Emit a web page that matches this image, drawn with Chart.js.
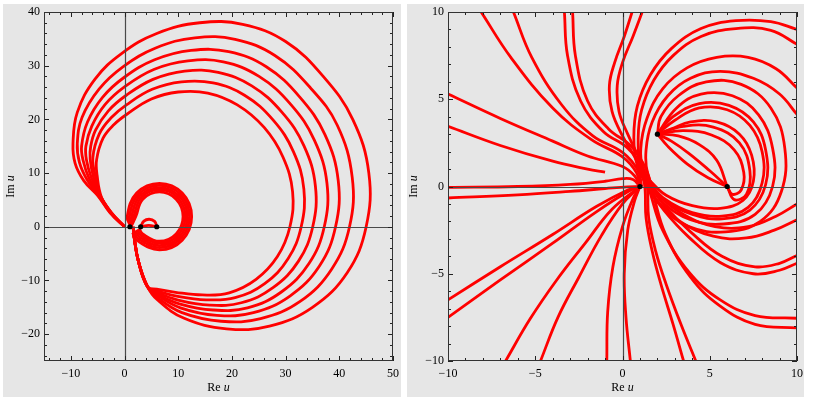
<!DOCTYPE html>
<html>
<head>
<meta charset="utf-8">
<script src="https://cdn.jsdelivr.net/npm/chart.js@4.4.1/dist/chart.umd.min.js"></script>
<style>
    html, body { margin: 0; padding: 0; background: #fff; }
    body { width: 818px; height: 400px; position: relative; overflow: hidden; }
    .panel { position: absolute; background: #e6e6e6; }
    .box { position: absolute; top: 0; height: 400px; }
</style>
</head>
<body>
<div class="panel" style="left:3px; top:4px; width:398px; height:393px;"></div>
<div class="panel" style="left:407px; top:4px; width:397px; height:393px;"></div>
<div class="box" style="left:0; width:405px;"><canvas id="leftChart"></canvas></div>
<div class="box" style="left:405px; width:413px;"><canvas id="rightChart"></canvas></div>

<script>
// ---- tick labels ----
const leftXTicks = [-10, 0, 10, 20, 30, 40, 50];
const leftYTicks = [-20, -10, 0, 10, 20, 30, 40];
const rightTicks = [-10, -5, 0, 5, 10];

// ---- left panel: fixed points ----
const leftDots = [[1, 0], [3, 0], [6, 0]];

// ---- left panel: big spirals, inner to outer ----
const spiral1 = [[0,0],[-2.4,2.4],[-4.3,5.5],[-5.1,9.5],[-5.2,12.5],[-4,16.5],[-2,19],[0.5,21],[5,23.8],[10,25.1],[15.5,24.9],[21,22.7],[26,18.5],[29.5,13],[31.3,6.5],[30.8,0],[28.5,-5.5],[24.5,-9.8],[19.5,-12.3],[14.5,-12.7],[9.5,-12.2],[6,-11.6],[4.3,-11.2],[2.6,-6.5],[1.8,-2],[1.6,0]];
const spiral2 = [[0,0],[-2.4,2.6],[-4.6,6],[-5.4,9.3],[-5.9,12.9],[-4.7,17.3],[-2.5,20.3],[0.35,22.7],[5.15,25.6],[10.6,27],[16.5,26.8],[22.35,24.5],[27.65,19.9],[31.45,14],[33.4,7],[32.9,0],[30.45,-5.95],[26.1,-10.6],[20.6,-13.2],[15.2,-13.6],[9.7,-12.9],[6,-11.9],[4.3,-11.2],[2.6,-6.5],[1.8,-2],[1.6,0]];
const spiral3 = [[0,0],[-2.45,2.6],[-4.7,6],[-5.8,9.3],[-6.4,12.6],[-6.3,15],[-5.4,18],[-3.05,21.55],[0.2,24.4],[5.3,27.45],[11.2,29],[17.45,28.75],[23.7,26.25],[29.3,21.35],[33.4,15.1],[35.55,7.55],[35.05,0],[32.4,-6.4],[27.65,-11.35],[21.75,-14.15],[15.85,-14.6],[9.95,-13.65],[6,-12.2],[4.3,-11.2],[2.6,-6.5],[1.8,-2],[1.6,0]];
const spiral4 = [[0,0],[-2.5,2.6],[-4.75,6],[-6.2,9.2],[-7.1,12.5],[-7.2,15],[-6.1,18.75],[-3.6,22.8],[0.05,26.1],[5.45,29.3],[11.8,30.9],[18.4,30.7],[25.05,28],[30.95,22.8],[35.35,16.15],[37.7,8.1],[37.2,0],[34.35,-6.85],[29.2,-12.15],[22.9,-15.1],[16.5,-15.5],[10.2,-14.35],[6,-12.5],[4.3,-11.2],[2.6,-6.5],[1.8,-2],[1.6,0]];
const spiral5 = [[0,0],[-2.55,2.6],[-4.8,6],[-6.6,9],[-7.7,12.3],[-8,15],[-6.9,19.5],[-4.1,24.1],[-0.1,27.8],[5.6,31.1],[12.4,32.85],[19.4,32.6],[26.4,29.8],[32.6,24.2],[37.3,17.2],[39.8,8.6],[39.3,0],[36.3,-7.3],[30.8,-12.9],[24,-16],[17.2,-16.5],[10.4,-15.1],[6,-12.7],[4.3,-11.2],[2.6,-6.5],[1.8,-2],[1.6,0]];
const spiral6 = [[0,0],[-2.6,2.6],[-4.9,5.9],[-7,8.8],[-8.4,12],[-8.8,15.5],[-7.9,20.4],[-4.75,25.65],[-0.3,29.8],[5.8,33.3],[13.1,35.2],[20.6,34.9],[28,31.9],[34.6,25.9],[39.6,18.95],[42.4,9.25],[41.9,0],[38.6,-7.85],[32.7,-13.9],[25.35,-17.1],[18,-17.6],[10.7,-16],[6,-13.1],[4.3,-11.2],[2.6,-6.5],[1.8,-2],[1.6,0]];
const spiral7 = [[0,0],[-2.7,2.6],[-5,5.8],[-7.6,8.6],[-9.2,11.8],[-9.6,15.5],[-8.8,21.3],[-5.5,27.5],[-0.5,32.3],[6,36],[14,38],[22,37.7],[30,34.5],[37,28],[42.5,20],[45.5,10],[45,0],[41.5,-8.5],[35,-15],[27,-18.5],[19,-19],[11,-17],[6,-13.5],[4.3,-11.2],[2.6,-6.5],[1.8,-2],[1.6,0]];

// ---- left panel: small ring around (6.5, 2) and inner loop ----
const ring1 = [[1.2,0],[2.1,1.9],[3.39,5.14],[6.5,6.5],[9.61,5.14],[10.9,1.9],[9.61,-1.34],[6.5,-2.7],[3.39,-1.34],[2.69,-0.3]];
const ring2 = [[1.2,0],[1.7,1.9],[3.1,5.43],[6.5,6.9],[9.9,5.43],[11.3,1.9],[9.9,-1.63],[6.5,-3.1],[3.1,-1.63],[2.34,-0.5]];
const ring3 = [[1.2,0],[1.3,1.9],[2.82,5.72],[6.5,7.3],[10.18,5.72],[11.7,1.9],[10.18,-1.92],[6.5,-3.5],[2.82,-1.92],[2,-0.7]];
const ring4 = [[1.2,0],[0.9,1.9],[2.54,6],[6.5,7.7],[10.46,6],[12.1,1.9],[10.46,-2.2],[6.5,-3.9],[2.54,-2.2],[1.65,-0.9]];
const ring5 = [[1.2,0],[0.5,1.9],[2.26,6.3],[6.5,8.1],[10.74,6.3],[12.5,1.9],[10.74,-2.5],[6.5,-4.3],[2.26,-2.5],[1.5,-1.1]];
const loopTop = [[3,0],[3.6,1.05],[4.6,1.4],[5.6,1.0],[6,0.1]];
const loopLow = [[3,0],[4.5,0.25],[6,0]];

// ---- right panel: fixed points ----
const rightDots = [[1, 0], [2, 3], [6, 0]];

// ---- right panel: lines running into (1,0) from the left and below ----
const rA = [[-10,-0.05],[-6,0],[-3,0.12],[-1,0.3],[0,0.45],[0.6,0.4],[1,0]];
const rB = [[-10,-0.66],[-6,-0.48],[-3,-0.28],[-1,-0.12],[0.3,-0.02],[1,0]];
const rC1 = [[-10,-6.5],[-7,-4.6],[-4,-2.75],[-1.5,-1.15],[0.3,-0.2],[1,0]];
const rC2 = [[-10,-7.5],[-7,-5.35],[-4,-3.25],[-1.5,-1.45],[0.3,-0.3],[1,0]];
const rD1 = [[-6.7,-10],[-5.3,-7.6],[-3.8,-5.4],[-2.1,-3.2],[-0.6,-1.3],[1,0]];
const rD2 = [[-4.7,-10],[-3.7,-7.5],[-2.5,-5.2],[-1.2,-2.8],[0,-1],[1,0]];
const rE = [[-0.9,-10],[-0.85,-7.2],[-0.55,-4.6],[0,-2.3],[0.6,-0.7],[1,0]];
const rF = [[0.45,-10],[0.2,-7.5],[0.1,-5],[0.3,-2.5],[0.7,-0.8],[1,0]];

// ---- right panel: lines from the upper left through the neck ----
const rN1 = [[-10,5.3],[-7,3.9],[-4,2.6],[-2,1.75],[0,1.15],[0.7,0.6],[1,0]];
const rN2 = [[-10,3.45],[-7,2.35],[-4,1.45],[-2,1],[-1,0.82]];
const rN3 = [[-8.1,10],[-6.4,7.4],[-4,4.5],[-1.8,2.7],[0,1.7],[0.8,0.8],[1,0]];
const rN4 = [[-6.25,10],[-5.2,7.4],[-3.5,4.7],[-1.7,2.9],[0,1.95],[0.9,0.9],[1.1,0]];
const rN5a = [[-3.33,10],[-3.15,7.5],[-2.4,4.9],[-1.1,3.15],[0.3,2.2],[1.2,1],[1.6,-0.4],[2.3,-2.5],[3.8,-4.9],[5.6,-6.5],[7.6,-7.4],[10,-7.55]];
const rN5b = [[-2.86,10],[-2.7,7.5],[-2,4.9],[-0.8,3.3],[0.5,2.3],[1.35,1],[1.75,-0.4],[2.45,-2.7],[3.9,-5.2],[5.6,-6.85],[7.6,-7.9],[10,-8.1]];
const rN6a = [[0.55,10],[0.1,8.6],[-0.45,7.1],[-0.75,5.8],[-0.6,4.3],[0,2.9],[0.8,1.5],[1.25,0.2],[1.35,-1.8],[1.7,-3.7],[2.2,-5.6],[2.9,-7.9],[3.5,-10]];
const rN6b = [[1.13,10],[0.6,8.6],[0,7.1],[-0.3,5.8],[-0.2,4.3],[0.3,3],[1,1.5],[1.4,0.2],[1.5,-1.8],[1.9,-3.7],[2.5,-5.6],[3.35,-7.9],[4.2,-10]];

// ---- right panel: arcs entering at the right edge, over the top, out again below ----
const rArc1 = [[10,9],[8.5,9.45],[6.5,9.5],[4.5,9.05],[2.8,7.9],[1.6,6.4],[0.85,4.6],[0.65,2.8],[0.85,1.2],[1.5,-0.1],[2.4,-1.4],[3.8,-2.9],[5.6,-4.35],[7.5,-5],[9,-4.8],[10,-4.4]];
const rArc2 = [[10,8.15],[8.5,8.95],[6.5,9.05],[4.5,8.6],[2.9,7.5],[1.8,6.1],[1.1,4.4],[0.9,2.8],[1.05,1.2],[1.65,0],[2.5,-1.2],[3.9,-2.6],[5.7,-4],[7.6,-4.6],[9,-4.4],[10,-3.95]];
const rArc3 = [[10,5.65],[8.8,6.75],[7.2,7.4],[5.4,7.4],[3.7,6.8],[2.3,5.6],[1.4,3.9],[1.05,2.2],[1.2,0.7],[1.9,-0.7],[3.3,-2],[5.2,-2.85],[7.1,-2.95],[8.7,-2.5],[10,-1.9]];
const rArc4 = [[10,4.13],[9,5.3],[7.5,6.2],[5.6,6.6],[3.9,6.2],[2.6,5.2],[1.7,3.7],[1.35,2.1],[1.45,0.7],[2.1,-0.5],[3.5,-1.6],[5.3,-2.3],[7.2,-2.3],[8.8,-1.7],[10,-1]];

// ---- right panel: loops round (6,0) that end in (2,3) ----
const rL1 = [[1.5,0.4],[2.5,-0.5],[4,-1.1],[5.6,-1.25],[6.9,-0.8],[7.5,0.3],[7.4,1.8],[6.7,3],[5.4,3.7],[3.9,3.7],[2.8,3.3],[2,3]];
const rL2 = [[1.45,0.35],[2.4,-0.7],[4,-1.5],[5.7,-1.7],[7.2,-1.2],[8,0.2],[8,2],[7.3,3.5],[6,4.4],[4.4,4.5],[3,3.8],[2,3]];
const rL2b = [[1.45,0.3],[2.4,-0.8],[4,-1.6],[5.7,-1.85],[7.3,-1.35],[8.2,0.1],[8.2,2.1],[7.5,3.7],[6.1,4.65],[4.4,4.75],[2.9,4],[2,3]];
const rL3 = [[1.4,0.3],[2.3,-0.9],[3.9,-1.9],[5.8,-2.15],[7.6,-1.6],[8.6,0],[8.6,2.2],[7.8,4.1],[6.3,5.2],[4.5,5.3],[3.1,4.5],[2,3]];
const rL4 = [[1.35,0.25],[2.2,-1.1],[3.8,-2.3],[5.9,-2.6],[7.9,-2],[9.1,-0.3],[9.3,2.2],[8.5,4.5],[6.8,5.85],[4.8,6],[3.2,5.2],[2.2,4],[2,3]];

// ---- right panel: short curves between (6,0) and (2,3) ----
const rT1 = [[6,0],[5,0.9],[3.8,1.9],[2.8,2.6],[2,3]];
const rT2 = [[6,0],[5.4,1.5],[4.4,2.4],[3.2,2.9],[2,3]];
const rT3 = [[6,0],[4.9,0.5],[3.7,1.3],[2.6,2.3],[2,3]];
const rT4 = [[6,0],[6.3,-0.45],[6.8,-0.2],[6.95,0.8],[6.4,2.1],[5.1,2.95],[3.5,3.2],[2,3]];
const rT5 = [[6,0],[6.4,-0.75],[7.1,-0.45],[7.3,0.9],[6.7,2.5],[5.2,3.4],[3.5,3.45],[2,3]];

const leftCurves = [spiral1, spiral2, spiral3, spiral4, spiral5, spiral6, spiral7,
    ring1, ring2, ring3, ring4, ring5, loopTop, loopLow];
const rightCurves = [rA, rB, rC1, rC2, rD1, rD2, rE, rF, rN1, rN2, rN3, rN4, rN5a, rN5b, rN6a, rN6b,
    rArc1, rArc2, rArc3, rArc4, rL1, rL2, rL2b, rL3, rL4, rT1, rT2, rT3, rT4, rT5];

const serif = "'Liberation Serif', 'DejaVu Serif', serif";
const minus = (v) => v < 0 ? '\u2212' + Math.abs(v) : String(v);
const toXY = (pts) => pts.map(([x, y]) => ({ x, y }));

// "Re u" / "Im u" with an italic u
const drawLabel = (ctx, x, y, name) => {
    const reg = '12px ' + serif, ita = 'italic 12px ' + serif;
    ctx.font = reg;
    const w1 = ctx.measureText(name + ' ').width;
    ctx.font = ita;
    const w2 = ctx.measureText('u').width;
    let start = x - (w1 + w2) / 2;
    ctx.textBaseline = 'middle';
    ctx.textAlign = 'left';
    ctx.font = reg; ctx.fillText(name + ' ', start, y);
    ctx.font = ita; ctx.fillText('u', start + w1, y);
};

// frame, inner tick marks, the axes through 0 and the axis labels
const frameTicks = {
    id: 'frameTicks',
    beforeDatasetDraw(chart, args, opts) {
        if (args.index !== 0) return;
        const { ctx, chartArea: a, scales: { x, y } } = chart;
        ctx.save();
        ctx.strokeStyle = '#4a4a4a';
        ctx.lineWidth = 1.2;
        const x0 = Math.round(x.getPixelForValue(0)) + 0.5;
        const y0 = Math.round(y.getPixelForValue(0)) + 0.5;
        ctx.beginPath();
        ctx.moveTo(x0, a.top); ctx.lineTo(x0, a.bottom);
        ctx.moveTo(a.left, y0); ctx.lineTo(a.right, y0);
        ctx.stroke();
        ctx.restore();
    },
    afterDraw(chart, args, opts) {
        const { ctx, chartArea: a, scales: { x, y } } = chart;
        ctx.save();
        ctx.strokeStyle = '#222';
        ctx.lineWidth = 1;
        ctx.beginPath();
        const isMajor = (v, m) => Math.abs(v / m - Math.round(v / m)) < 1e-6;
        for (let v = Math.ceil(x.min / opts.minor - 1e-9) * opts.minor; v <= x.max + 1e-9; v += opts.minor) {
            const len = isMajor(v, opts.major) ? 5 : 3;
            const px = Math.round(x.getPixelForValue(v)) + 0.5;
            ctx.moveTo(px, a.bottom); ctx.lineTo(px, a.bottom - len);
            ctx.moveTo(px, a.top); ctx.lineTo(px, a.top + len);
        }
        for (let v = Math.ceil(y.min / opts.minor - 1e-9) * opts.minor; v <= y.max + 1e-9; v += opts.minor) {
            const len = isMajor(v, opts.major) ? 5 : 3;
            const py = Math.round(y.getPixelForValue(v)) + 0.5;
            ctx.moveTo(a.left, py); ctx.lineTo(a.left + len, py);
            ctx.moveTo(a.right, py); ctx.lineTo(a.right - len, py);
        }
        ctx.stroke();
        ctx.strokeStyle = '#333';
        ctx.strokeRect(Math.round(a.left) + 0.5, Math.round(a.top) + 0.5, Math.round(a.width) - 1, Math.round(a.height) - 1);

        ctx.fillStyle = '#000';
        drawLabel(ctx, (a.left + a.right) / 2, 388, 'Re');
        ctx.translate(opts.yTitleX, (a.top + a.bottom) / 2);
        ctx.rotate(-Math.PI / 2);
        drawLabel(ctx, 0, 0, 'Im');
        ctx.restore();
    }
};

const buildChart = (el, cfg) => {
    const datasets = [{
        data: toXY(cfg.dots),
        showLine: false,
        pointRadius: 2.6,
        pointBackgroundColor: '#000',
        pointBorderWidth: 0
    }].concat(cfg.curves.map(c => ({
        data: toXY(c),
        showLine: true,
        borderColor: '#ff0000',
        borderWidth: 2.8,
        pointRadius: 0,
        tension: 0.4
    })));

    return new Chart(el, {
        type: 'scatter',
        data: { datasets },
        options: {
            responsive: true,
            maintainAspectRatio: false,
            animation: false,
            layout: { padding: cfg.padding },
            plugins: {
                legend: { display: false },
                tooltip: { enabled: false },
                frameTicks: { major: cfg.major, minor: cfg.minor, yTitleX: cfg.yTitleX }
            },
            scales: {
                x: {
                    type: 'linear',
                    min: cfg.xMin, max: cfg.xMax,
                    grid: { display: false, drawTicks: false },
                    border: { display: false },
                    afterBuildTicks: (s) => { s.ticks = cfg.xTicks.map(v => ({ value: v })); },
                    afterFit: (s) => { s.height = 39; },
                    ticks: { autoSkip: false, maxRotation: 0, padding: 6, color: '#000', font: { family: serif, size: 12 }, callback: minus }
                },
                y: {
                    type: 'linear',
                    min: cfg.yMin, max: cfg.yMax,
                    grid: { display: false, drawTicks: false },
                    border: { display: false },
                    afterBuildTicks: (s) => { s.ticks = cfg.yTicks.map(v => ({ value: v })); },
                    afterFit: (s) => { s.width = cfg.yWidth; },
                    ticks: { autoSkip: false, padding: 4, color: '#000', font: { family: serif, size: 12 }, callback: minus }
                }
            }
        },
        plugins: [frameTicks]
    });
};

buildChart(document.getElementById('leftChart'), {
    dots: leftDots, curves: leftCurves,
    xMin: -15, xMax: 50, yMin: -25, yMax: 40,
    xTicks: leftXTicks, yTicks: leftYTicks,
    major: 10, minor: 2,
    yWidth: 40, yTitleX: 11,
    padding: { left: 4, right: 11, top: 12, bottom: 0 }
});

buildChart(document.getElementById('rightChart'), {
    dots: rightDots, curves: rightCurves,
    xMin: -10, xMax: 10, yMin: -10, yMax: 10,
    xTicks: rightTicks, yTicks: rightTicks,
    major: 5, minor: 1,
    yWidth: 43, yTitleX: 9,
    padding: { left: 0, right: 21, top: 12, bottom: 0 }
});
</script>
</body>
</html>
